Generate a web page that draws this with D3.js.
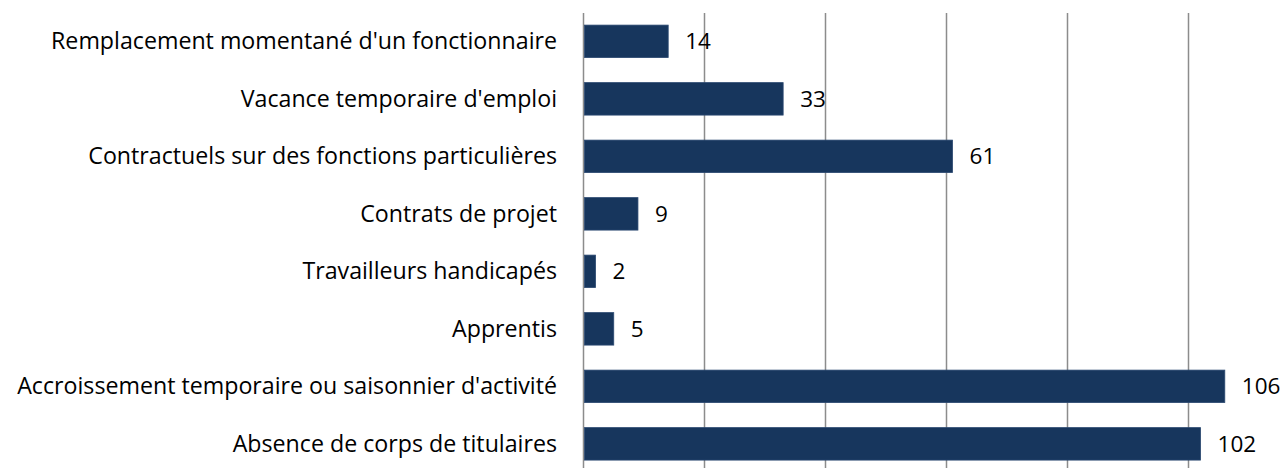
<!DOCTYPE html>
<html>
<head>
<meta charset="utf-8">
<script src="https://cdn.jsdelivr.net/npm/d3@7"></script>
<style>
    body { margin: 0; background: #fff; }
    text { font-family: "Open Sans", sans-serif; fill: #000; }
</style>
</head>
<body>
<script>
// data, top to bottom as in the chart
var categories = [
    "Remplacement momentané d'un fonctionnaire",
    "Vacance temporaire d'emploi",
    "Contractuels sur des fonctions particulières",
    "Contrats de projet",
    "Travailleurs handicapés",
    "Apprentis",
    "Accroissement temporaire ou saisonnier d'activité",
    "Absence de corps de titulaires"
];
var values = [14, 33, 61, 9, 2, 5, 106, 102];
var gridTicks = [0, 20, 40, 60, 80, 100];

var width = 1286;
var height = 468;

var margin = {
    top: 12.6,
    bottom: -4.6,
    left: 583.5,
    right: 0,
}

var svg = d3.select("body")
    .append("svg")
    .attr("width", width)
    .attr("height", height);

var x = d3.scaleLinear()
    .domain([0, 120])
    .range([margin.left, margin.left + 726]);

var y = d3.scaleBand()
    .domain(categories)
    .range([margin.top, height - margin.bottom])
    .paddingInner(0.435)
    .paddingOuter(0.2175);

// vertical gridlines
svg.append("g")
    .selectAll("line")
    .data(gridTicks)
    .enter().append("line")
    .attr("x1", function (d) { return x(d); })
    .attr("x2", function (d) { return x(d); })
    .attr("y1", 13)
    .attr("y2", height)
    .attr("stroke", "#8c8c8c")
    .attr("stroke-width", 1.5);

// bars
svg.append("g")
    .selectAll("rect")
    .data(values)
    .enter().append("rect")
    .attr("x", x(0) + 1)
    .attr("y", function (d, i) { return y(categories[i]); })
    .attr("width", function (d) { return x(d) - x(0) - 1; })
    .attr("height", y.bandwidth())
    .attr("fill", "#17365d")
    .attr("stroke", "#2c4a72")
    .attr("stroke-width", 0.8);

// category labels
svg.append("g")
    .selectAll("text")
    .data(categories)
    .enter().append("text")
    .attr("x", 557)
    .attr("y", function (d) { return y(d) + y.bandwidth() / 2; })
    .attr("dy", "0.35em")
    .attr("text-anchor", "end")
    .style("font-size", "23.2px")
    .text(function (d) { return d; });

// value labels
svg.append("g")
    .selectAll("text")
    .data(values)
    .enter().append("text")
    .attr("x", function (d) { return x(d) + 17; })
    .attr("y", function (d, i) { return y(categories[i]) + y.bandwidth() / 2; })
    .attr("dy", "0.36em")
    .style("font-size", "22.5px")
    .text(function (d) { return d; });
</script>
</body>
</html>
